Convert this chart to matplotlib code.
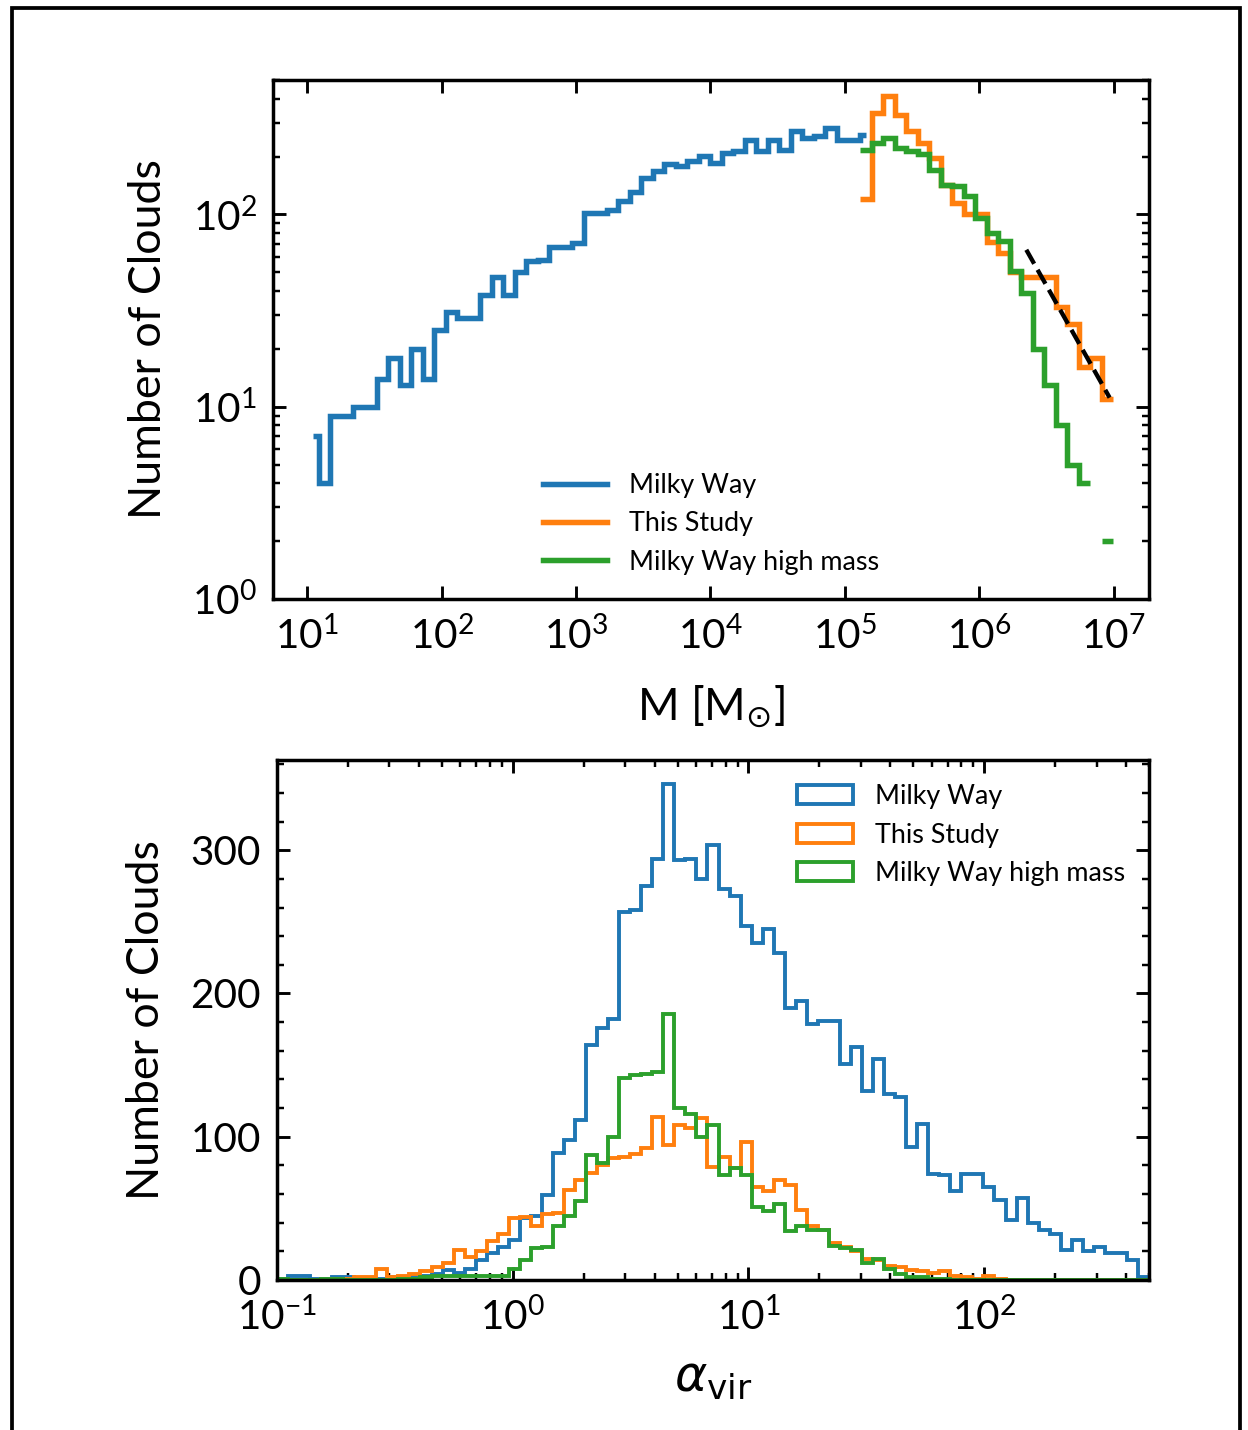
import numpy as np
import matplotlib
matplotlib.use("Agg")
import matplotlib.pyplot as plt
from matplotlib.patches import Rectangle
from matplotlib.ticker import LogLocator, NullLocator, MultipleLocator

plt.rcParams['font.family'] = ['Lato', 'DejaVu Sans']
plt.rcParams['mathtext.fontset'] = 'custom'
plt.rcParams['mathtext.rm'] = 'Lato'
plt.rcParams['mathtext.it'] = 'Lato:italic'
plt.rcParams['mathtext.bf'] = 'Lato:bold'

BLUE, ORANGE, GREEN = '#1f77b4', '#ff7f0e', '#2ca02c'
labels = ['Milky Way', 'This Study', 'Milky Way high mass']

# ---- cloud mass distribution (log10 M bin edges, counts per bin) ----
mw_mass_edges = np.r_[1.039, 1.087 + 0.08564 * np.arange(48), 5.157]
mw_mass_counts = [7, 4, 9, 9, 10, 10, 14, 18, 13, 20,
                  14, 25, 31, 29, 29, 38, 47, 38, 50, 57,
                  58, 68, 68, 71, 102, 102, 106, 117, 130, 155,
                  168, 182, 178, 189, 201, 185, 209, 213, 245, 213,
                  245, 217, 271, 250, 255, 282, 245, 245, 260]
hm_mass_edges = 5.114 + 0.0856 * np.arange(23)
study_mass_counts = [120, 337, 411, 330, 271, 236, 197, 143, 115, 100,
                     100, 72, 63, 50, 47, 47, 47, 33, 27, 16, 18, 11]
mw_hm_mass_counts = [217, 236, 250, 222, 213, 205, 171, 143, 140, 124,
                     96, 80, 73, 51, 39, 20, 13, 8, 5, 4, np.nan, 2]

# power-law fit to the high-mass tail: log N = intercept + slope * log M
fit_logm = [6.35, 6.97]
fit_slope = -1.24
fit_intercept = 9.69

# ---- virial parameter distribution ----
alpha_edges = np.logspace(-1, np.log10(500), 80)
mw_alpha_counts = [1, 3, 3, 1, 1, 2, 2, 1, 1, 1, 2, 2, 3, 3, 4,
                   7, 5, 8, 14, 19, 23, 28, 43, 45, 59, 89, 98, 112, 164,
                   176, 182, 257, 258, 275, 294, 346, 293, 294, 280, 304, 273,
                   268, 247, 235, 245, 228, 190, 195, 179, 181, 181, 151,
                   163, 132, 154, 130, 128, 93, 109, 74, 73, 62, 74, 74, 65,
                   56, 42, 57, 40, 35, 32, 21, 28, 20, 23, 19, 19, 14, 2]
study_alpha_counts = [0, 0, 0, 0, 0, 1, 1, 2, 2,
                      8, 2, 3, 4, 6, 9, 12, 21, 16, 20, 27, 32, 43,
                      44, 38, 46, 47, 63, 70, 75, 80, 85, 86, 88, 92, 114, 94,
                      108, 106, 113,
                      79, 86, 78, 96, 65, 62, 70, 66, 49, 38, 35, 26, 23, 20,
                      15, 14, 10, 9, 7, 6, 5, 6, 3, 2, 1, 3, 1,
                      0, 0, 0, 0, 0, 0, 0, 0, 0, 0, 0, 0, 0]
mw_hm_alpha_counts = [1, 0, 0, 0, 1, 1, 0, 0, 0, 0, 0, 1, 1, 2, 3, 3, 3, 3,
                      3, 3, 3,
                      8, 14, 22, 23, 38, 45, 55, 87, 82, 100, 141, 143, 144,
                      145, 186, 120, 116, 100, 108,
                      73, 78, 73, 51, 48, 53, 34, 38, 35, 35, 24, 22, 21, 12,
                      15, 8, 4, 2, 2, 1, 1, 0, 0,
                      0, 0, 0, 0, 0, 0, 0, 0, 0, 0, 0, 0, 0, 0, 0, 0]

W, H, DPI = 1248, 1430, 208
fig = plt.figure(figsize=(W / DPI, H / DPI), dpi=DPI)

ax1 = fig.add_axes([273 / W, 1 - 599 / H, 876 / W, 519 / H])
ax2 = fig.add_axes([277 / W, 1 - 1280 / H, 872 / W, 520 / H])

TICK_FS = 14
LABEL_FS = 15.5
LEG_FS = 9.3

def style_axes(ax):
    for s in ax.spines.values():
        s.set_linewidth(1.2)
    ax.tick_params(which='both', direction='in', top=True, right=True,
                   labelsize=TICK_FS)
    ax.tick_params(which='major', length=4.5, width=1.0)
    ax.tick_params(which='minor', length=2.4, width=0.85)
    ax.tick_params(axis='x', pad=6)
    ax.tick_params(axis='y', pad=5.5)

# ---- top panel: mass function ----
ax1.set_xscale('log')
ax1.set_yscale('log', nonpositive='mask')
ax1.stairs(mw_mass_counts, 10 ** mw_mass_edges, baseline=None,
           color=BLUE, lw=1.9, label=labels[0])
ax1.stairs(study_mass_counts, 10 ** hm_mass_edges, baseline=None,
           color=ORANGE, lw=1.9, label=labels[1])
ax1.stairs(mw_hm_mass_counts, 10 ** hm_mass_edges, baseline=None,
           color=GREEN, lw=1.9, label=labels[2])
fit_m = 10 ** np.array(fit_logm)
fit_n = 10 ** (fit_intercept + fit_slope * np.array(fit_logm))
ax1.plot(fit_m, fit_n, ls='--', color='black', lw=1.5)

ax1.set_xlim(10 ** 0.745, 10 ** 7.263)
ax1.set_ylim(1, 500)
ax1.xaxis.set_major_locator(LogLocator(base=10, numticks=12))
ax1.xaxis.set_minor_locator(NullLocator())
style_axes(ax1)
ax1.set_xlabel(r'M [M$_{\odot}$]', fontsize=LABEL_FS, labelpad=9,
               math_fontfamily='dejavusans')
ax1.set_ylabel('Number of Clouds', fontsize=LABEL_FS, labelpad=8)
ax1.legend(loc='lower center', frameon=False, fontsize=LEG_FS,
           handlelength=2.4, handletextpad=0.8, labelspacing=0.5,
           bbox_to_anchor=(0.5, 0.0))

# ---- bottom panel: virial parameter ----
ax2.set_xscale('log')
centers = np.sqrt(alpha_edges[:-1] * alpha_edges[1:])
for counts, col, lab in [(mw_alpha_counts, BLUE, labels[0]),
                         (study_alpha_counts, ORANGE, labels[1]),
                         (mw_hm_alpha_counts, GREEN, labels[2])]:
    ax2.hist(centers, bins=alpha_edges, weights=counts, histtype='step',
             color=col, lw=1.35, label=lab)
ax2.set_xlim(0.1, 500)
ax2.set_ylim(0, 363)
ax2.xaxis.set_major_locator(LogLocator(base=10, numticks=10))
ax2.xaxis.set_minor_locator(LogLocator(base=10, subs=np.arange(2, 10), numticks=20))
ax2.yaxis.set_major_locator(MultipleLocator(100))
ax2.yaxis.set_minor_locator(MultipleLocator(20))
style_axes(ax2)
ax2.set_xlabel(r'$\alpha_{\rm vir}$', fontsize=LABEL_FS + 1.5, labelpad=7,
               math_fontfamily='dejavusans')
ax2.set_ylabel('Number of Clouds', fontsize=LABEL_FS, labelpad=8)
ax2.legend(loc='upper right', frameon=False, fontsize=LEG_FS,
           handlelength=2.1, handletextpad=0.8, labelspacing=0.5)

# outer frame around the figure
fig.patches.append(Rectangle((12 / W, -0.01), (1240 - 12) / W, 1.01 - 8 / H,
                             transform=fig.transFigure, fill=False,
                             ec='black', lw=1.3))

fig.savefig('out.png', dpi=DPI)
